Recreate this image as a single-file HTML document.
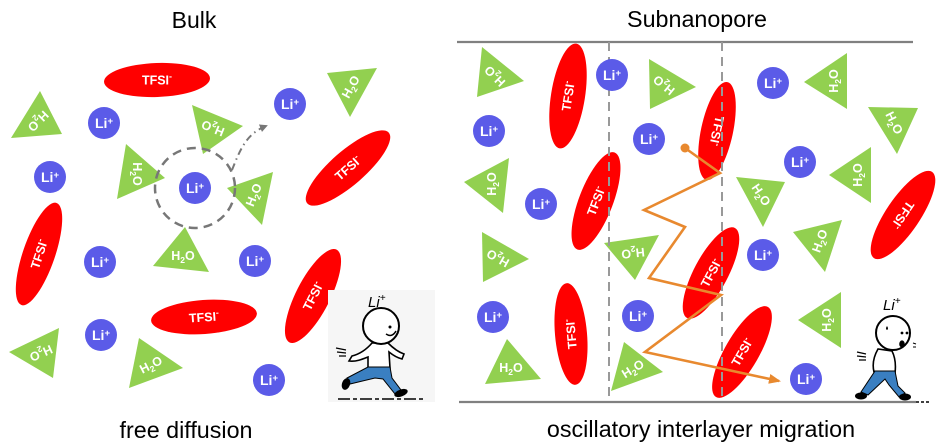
<!DOCTYPE html>
<html><head><meta charset="utf-8">
<style>
html,body{margin:0;padding:0;background:#fff;}
svg{display:block;}
.t{font-family:"Liberation Sans",Arial,sans-serif;}
.w{font-family:"Liberation Sans",Arial,sans-serif;font-weight:bold;fill:#fff;text-anchor:middle;}
</style></head>
<body>
<svg width="945" height="448" viewBox="0 0 945 448" xmlns="http://www.w3.org/2000/svg">
<defs>
<marker id="ag" markerWidth="8" markerHeight="8" refX="6" refY="4" orient="auto" markerUnits="userSpaceOnUse"><path d="M0,0 L8,4 L0,8 Z" fill="#777"/></marker>
<marker id="ao" markerWidth="12" markerHeight="10" refX="10" refY="5" orient="auto" markerUnits="userSpaceOnUse"><path d="M0,0 L12,5 L0,10 Z" fill="#e8892f"/></marker>
</defs>

<!-- Titles -->
<text class="t" x="194" y="28" font-size="23" text-anchor="middle">Bulk</text>
<text class="t" x="697" y="27" font-size="23.3" text-anchor="middle">Subnanopore</text>
<text class="t" x="186" y="438" font-size="23.3" text-anchor="middle">free diffusion</text>
<text class="t" x="701" y="437" font-size="23.3" text-anchor="middle">oscillatory interlayer migration</text>

<!-- ===== LEFT PANEL ===== -->
<g fill="#ff0000">
<ellipse cx="157" cy="80" rx="53" ry="17" transform="rotate(-2 157 80)"/>
<ellipse cx="348" cy="168" rx="54" ry="17" transform="rotate(-41 348 168)"/>
<ellipse cx="39" cy="254" rx="54" ry="16" transform="rotate(-71 39 254)"/>
<ellipse cx="313" cy="296" rx="52" ry="17" transform="rotate(-63 313 296)"/>
<ellipse cx="204" cy="317" rx="53" ry="17" transform="rotate(-4 204 317)"/>
</g>
<g class="w" font-size="12.5">
<g transform="translate(157,80) rotate(0)"><text y="4.5">TFSI<tspan dy="-5" font-size="9">-</tspan></text></g>
<g transform="translate(348,168) rotate(-41)"><text y="4.5">TFSI<tspan dy="-5" font-size="9">-</tspan></text></g>
<g transform="translate(39,254) rotate(-72)"><text y="4.5">TFSI<tspan dy="-5" font-size="9">-</tspan></text></g>
<g transform="translate(313,296) rotate(-63)"><text y="4.5">TFSI<tspan dy="-5" font-size="9">-</tspan></text></g>
<g transform="translate(204,317) rotate(-4)"><text y="4.5">TFSI<tspan dy="-5" font-size="9">-</tspan></text></g>
</g>

<g fill="#92d050">
<polygon points="11,138 40,91 62,134"/>
<polygon points="192,105 243,126 203,154"/>
<polygon points="126,144 165,178 117,199"/>
<polygon points="273,172 227,188 262,225"/>
<polygon points="327,73 377,68 350,117"/>
<polygon points="185,227 209,272 153,266"/>
<polygon points="59,328 9,352 53,378"/>
<polygon points="139,338 183,368 129,388"/>
</g>
<g class="w" font-size="12.5">
<g transform="translate(38,121) rotate(135)"><text y="4">H<tspan dy="3" font-size="8.5">2</tspan><tspan dy="-3">O</tspan></text></g>
<g transform="translate(213,128) rotate(202)"><text y="4">H<tspan dy="3" font-size="8.5">2</tspan><tspan dy="-3">O</tspan></text></g>
<g transform="translate(137,174) rotate(90)"><text y="4">H<tspan dy="3" font-size="8.5">2</tspan><tspan dy="-3">O</tspan></text></g>
<g transform="translate(254,195) rotate(-68)"><text y="4">H<tspan dy="3" font-size="8.5">2</tspan><tspan dy="-3">O</tspan></text></g>
<g transform="translate(351,87) rotate(-61)"><text y="4">H<tspan dy="3" font-size="8.5">2</tspan><tspan dy="-3">O</tspan></text></g>
<g transform="translate(183,256) rotate(0)"><text y="4">H<tspan dy="3" font-size="8.5">2</tspan><tspan dy="-3">O</tspan></text></g>
<g transform="translate(41,353) rotate(156)"><text y="4">H<tspan dy="3" font-size="8.5">2</tspan><tspan dy="-3">O</tspan></text></g>
<g transform="translate(151,365) rotate(-27)"><text y="4">H<tspan dy="3" font-size="8.5">2</tspan><tspan dy="-3">O</tspan></text></g>
</g>

<g fill="#5b5be8">
<circle cx="104" cy="123" r="16"/>
<circle cx="50" cy="177" r="16"/>
<circle cx="195" cy="188" r="16"/>
<circle cx="290" cy="104" r="16"/>
<circle cx="100" cy="262" r="16"/>
<circle cx="255" cy="261" r="16"/>
<circle cx="101" cy="335" r="16"/>
<circle cx="269" cy="380" r="16"/>
</g>
<g class="w" font-size="14">
<text x="104" y="128">Li<tspan dy="-4" font-size="9.5">+</tspan></text>
<text x="50" y="182">Li<tspan dy="-4" font-size="9.5">+</tspan></text>
<text x="195" y="193">Li<tspan dy="-4" font-size="9.5">+</tspan></text>
<text x="290" y="109">Li<tspan dy="-4" font-size="9.5">+</tspan></text>
<text x="100" y="267">Li<tspan dy="-4" font-size="9.5">+</tspan></text>
<text x="255" y="266">Li<tspan dy="-4" font-size="9.5">+</tspan></text>
<text x="101" y="340">Li<tspan dy="-4" font-size="9.5">+</tspan></text>
<text x="269" y="385">Li<tspan dy="-4" font-size="9.5">+</tspan></text>
</g>

<circle cx="195" cy="188" r="40" fill="none" stroke="#777" stroke-width="2.5" stroke-dasharray="9 6"/>
<path d="M232,170 C240,150 246,134 266,126" fill="none" stroke="#777" stroke-width="2" stroke-dasharray="7 4 1.5 4" marker-end="url(#ag)"/>

<!-- running man -->
<rect x="328" y="290" width="107" height="112" fill="#f6f6f6"/>
<text x="368" y="307" font-size="15" font-style="italic" class="t">Li<tspan dy="-6" font-size="10">+</tspan></text>
<path d="M372,343 C366,350 360,354 352,356 L349,361 C356,362 363,359 368,357 L368,368 L390,368 L389,352 C394,356 398,358 402,359 L404,354 C398,352 393,348 388,343 Z" fill="#fff" stroke="#000" stroke-width="1.6"/>
<path d="M368,367 L390,367 L392,378 L401,390 L395,394 L383,379 L375,378 L350,384 L347,378 Z" fill="#3a7fc1" stroke="#000" stroke-width="1"/>
<ellipse cx="346" cy="384" rx="4" ry="6" fill="#000" transform="rotate(20 346 384)"/>
<ellipse cx="401" cy="393" rx="7" ry="3.5" fill="#000" transform="rotate(-20 401 393)"/>
<circle cx="381" cy="326" r="18" fill="#fff" stroke="#000" stroke-width="2"/>
<circle cx="390" cy="327" r="1.5" fill="#000"/>
<path d="M386,334 Q392,338 396,331" fill="none" stroke="#000" stroke-width="1.5"/>
<path d="M336,348 L346,350 M337,352 L346,353 M339,356 L346,356" stroke="#000" stroke-width="1.2"/>
<path d="M338,399 L426,399" stroke="#000" stroke-width="1.5" stroke-dasharray="12 3 4 3"/>

<!-- ===== RIGHT PANEL ===== -->
<g fill="#ff0000">
<ellipse cx="568" cy="96" rx="53" ry="17" transform="rotate(-81 568 96)"/>
<ellipse cx="717" cy="131" rx="50" ry="16" transform="rotate(-78 717 131)"/>
<ellipse cx="596" cy="201" rx="52" ry="17" transform="rotate(-69 596 201)"/>
<ellipse cx="903" cy="215" rx="52" ry="17" transform="rotate(-56 903 215)"/>
<ellipse cx="711" cy="273" rx="51" ry="17" transform="rotate(-62 711 273)"/>
<ellipse cx="571" cy="334" rx="51" ry="16" transform="rotate(-95 571 334)"/>
<ellipse cx="742" cy="352" rx="52" ry="17" transform="rotate(-60 742 352)"/>
</g>
<g class="w" font-size="12.5">
<g transform="translate(568,96) rotate(-81)"><text y="4.5">TFSI<tspan dy="-5" font-size="9">-</tspan></text></g>
<g transform="translate(717,131) rotate(102)"><text y="4.5">TFSI<tspan dy="-5" font-size="9">-</tspan></text></g>
<g transform="translate(596,201) rotate(-69)"><text y="4.5">TFSI<tspan dy="-5" font-size="9">-</tspan></text></g>
<g transform="translate(903,215) rotate(124)"><text y="4.5">TFSI<tspan dy="-5" font-size="9">-</tspan></text></g>
<g transform="translate(711,273) rotate(-62)"><text y="4.5">TFSI<tspan dy="-5" font-size="9">-</tspan></text></g>
<g transform="translate(571,334) rotate(-95)"><text y="4.5">TFSI<tspan dy="-5" font-size="9">-</tspan></text></g>
<g transform="translate(742,352) rotate(-60)"><text y="4.5">TFSI<tspan dy="-5" font-size="9">-</tspan></text></g>
</g>

<g fill="#92d050">
<polygon points="482,47 524,81 477,97"/>
<polygon points="649,59 696,87 650,109"/>
<polygon points="847,53 804,82 847,109"/>
<polygon points="868,107 918,108 897,154"/>
<polygon points="871,147 829,175 871,203"/>
<polygon points="509,158 464,182 503,213"/>
<polygon points="736,177 785,182 763,227"/>
<polygon points="793,232 842,220 825,272"/>
<polygon points="482,232 529,259 483,282"/>
<polygon points="604,243 659,235 635,280"/>
<polygon points="841,292 798,320 841,348"/>
<polygon points="507,339 541,379 485,384"/>
<polygon points="624,342 663,372 611,391"/>
</g>
<g class="w" font-size="12.5">
<g transform="translate(495,76) rotate(225)"><text y="4">H<tspan dy="3" font-size="8.5">2</tspan><tspan dy="-3">O</tspan></text></g>
<g transform="translate(664,85) rotate(219)"><text y="4">H<tspan dy="3" font-size="8.5">2</tspan><tspan dy="-3">O</tspan></text></g>
<g transform="translate(834,81) rotate(-90)"><text y="4">H<tspan dy="3" font-size="8.5">2</tspan><tspan dy="-3">O</tspan></text></g>
<g transform="translate(894,123) rotate(63)"><text y="4">H<tspan dy="3" font-size="8.5">2</tspan><tspan dy="-3">O</tspan></text></g>
<g transform="translate(858,175) rotate(-90)"><text y="4">H<tspan dy="3" font-size="8.5">2</tspan><tspan dy="-3">O</tspan></text></g>
<g transform="translate(492,184) rotate(-90)"><text y="4">H<tspan dy="3" font-size="8.5">2</tspan><tspan dy="-3">O</tspan></text></g>
<g transform="translate(761,195) rotate(56)"><text y="4">H<tspan dy="3" font-size="8.5">2</tspan><tspan dy="-3">O</tspan></text></g>
<g transform="translate(820,241) rotate(-70)"><text y="4">H<tspan dy="3" font-size="8.5">2</tspan><tspan dy="-3">O</tspan></text></g>
<g transform="translate(498,258) rotate(209)"><text y="4">H<tspan dy="3" font-size="8.5">2</tspan><tspan dy="-3">O</tspan></text></g>
<g transform="translate(633,253) rotate(174)"><text y="4">H<tspan dy="3" font-size="8.5">2</tspan><tspan dy="-3">O</tspan></text></g>
<g transform="translate(827,320) rotate(-90)"><text y="4">H<tspan dy="3" font-size="8.5">2</tspan><tspan dy="-3">O</tspan></text></g>
<g transform="translate(511,368) rotate(0)"><text y="4">H<tspan dy="3" font-size="8.5">2</tspan><tspan dy="-3">O</tspan></text></g>
<g transform="translate(633,369) rotate(-32)"><text y="4">H<tspan dy="3" font-size="8.5">2</tspan><tspan dy="-3">O</tspan></text></g>
</g>

<!-- pore walls and layer boundaries -->
<line x1="457" y1="42" x2="913" y2="42" stroke="#808080" stroke-width="2.2"/>
<line x1="459" y1="402" x2="916" y2="402" stroke="#808080" stroke-width="2.2"/>
<line x1="609" y1="42" x2="609" y2="402" stroke="#999" stroke-width="2" stroke-dasharray="9 6"/>
<line x1="722" y1="42" x2="722" y2="402" stroke="#999" stroke-width="2" stroke-dasharray="9 6"/>

<g fill="#5b5be8">
<circle cx="612" cy="75" r="16"/>
<circle cx="773" cy="83" r="16"/>
<circle cx="489" cy="131" r="16"/>
<circle cx="649" cy="139" r="16"/>
<circle cx="800" cy="162" r="16"/>
<circle cx="541" cy="204" r="16"/>
<circle cx="763" cy="255" r="16"/>
<circle cx="493" cy="317" r="16"/>
<circle cx="638" cy="316" r="16"/>
<circle cx="806" cy="379" r="16"/>
</g>
<g class="w" font-size="14">
<text x="612" y="80">Li<tspan dy="-4" font-size="9.5">+</tspan></text>
<text x="773" y="88">Li<tspan dy="-4" font-size="9.5">+</tspan></text>
<text x="489" y="136">Li<tspan dy="-4" font-size="9.5">+</tspan></text>
<text x="649" y="144">Li<tspan dy="-4" font-size="9.5">+</tspan></text>
<text x="800" y="167">Li<tspan dy="-4" font-size="9.5">+</tspan></text>
<text x="541" y="209">Li<tspan dy="-4" font-size="9.5">+</tspan></text>
<text x="763" y="260">Li<tspan dy="-4" font-size="9.5">+</tspan></text>
<text x="493" y="322">Li<tspan dy="-4" font-size="9.5">+</tspan></text>
<text x="638" y="321">Li<tspan dy="-4" font-size="9.5">+</tspan></text>
<text x="806" y="384">Li<tspan dy="-4" font-size="9.5">+</tspan></text>
</g>

<!-- orange zigzag -->
<path d="M685,148 L720,173 L644,210 L685,227 L649,278 L721,295 L645,352 L779,381" fill="none" stroke="#e8892f" stroke-width="2.6" stroke-linejoin="miter" marker-end="url(#ao)"/>
<circle cx="685" cy="148" r="4.5" fill="#e8892f"/>

<!-- walking man -->
<text x="883" y="310" font-size="15" font-style="italic" class="t">Li<tspan dy="-6" font-size="10">+</tspan></text>
<path d="M878,349 C874,356 872,364 874,372 L895,373 C896,365 895,357 892,351 Z" fill="#fff" stroke="#000" stroke-width="1.6"/>
<path d="M875,371 L895,371 L898,386 L905,393 L899,397 L889,385 L885,379 L868,395 L861,392 Z" fill="#3a7fc1" stroke="#000" stroke-width="1"/>
<ellipse cx="861" cy="396" rx="6" ry="3.5" fill="#000"/>
<ellipse cx="905" cy="397" rx="6" ry="3.5" fill="#000"/>
<circle cx="893" cy="333" r="17" fill="#fff" stroke="#000" stroke-width="2"/>
<path d="M887,326 q-2,3 0,4 q2,-1 0,-4 Z" fill="#000"/>
<circle cx="902" cy="333" r="1.4" fill="#000"/>
<circle cx="907" cy="333" r="1.4" fill="#000"/>
<ellipse cx="902" cy="344" rx="2.8" ry="3.6" fill="#000"/>
<path d="M913,343 l3,1 M913,347 l3,0" stroke="#000" stroke-width="1"/>
<path d="M857,352 L866,354 M857,356 L866,357 M859,360 L866,360" stroke="#000" stroke-width="1.2"/>
<path d="M916,402 L930,402" stroke="#000" stroke-width="1.5" stroke-dasharray="3 2"/>
</svg>
</body></html>
